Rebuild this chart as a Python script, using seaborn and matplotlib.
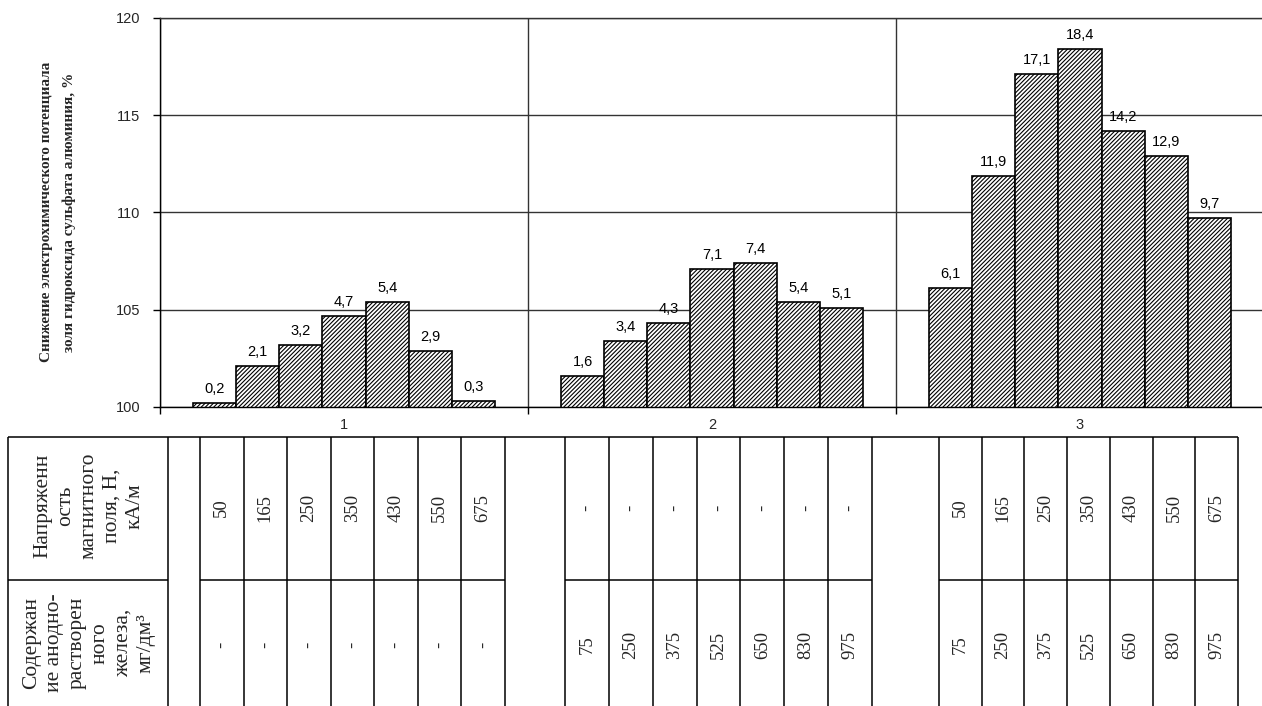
import matplotlib
matplotlib.use("Agg")
import matplotlib.pyplot as plt
import seaborn as sns
import pandas as pd
import numpy as np

# ---------------- data ----------------
groups = ["1", "2", "3"]
bar_idx = [0, 1, 2, 3, 4, 5, 6]
decrease_g1 = [0.2, 2.1, 3.2, 4.7, 5.4, 2.9, 0.3]
decrease_g2 = [1.6, 3.4, 4.3, 7.1, 7.4, 5.4, 5.1]
decrease_g3 = [6.1, 11.9, 17.1, 18.4, 14.2, 12.9, 9.7]
base_level = 100

field_g1 = ["50", "165", "250", "350", "430", "550", "675"]
field_g2 = ["-", "-", "-", "-", "-", "-", "-"]
field_g3 = ["50", "165", "250", "350", "430", "550", "675"]
iron_g1 = ["-", "-", "-", "-", "-", "-", "-"]
iron_g2 = ["75", "250", "375", "525", "650", "830", "975"]
iron_g3 = ["75", "250", "375", "525", "650", "830", "975"]

y_ticks = [100, 105, 110, 115, 120]
y_label = "Снижение электрохимического потенциала\nзоля гидроксида сульфата алюминия, %"
row1_header = "Напряженн\nость\nмагнитного\nполя, Н,\nкА/м"
row2_header = "Содержан\nие анодно-\nрастворен\nного\nжелеза,\nмг/дм³"

all_dec = [decrease_g1, decrease_g2, decrease_g3]
rows = []
for g, vals in zip(groups, all_dec):
    for i, v in zip(bar_idx, vals):
        rows.append({"group": g, "idx": i, "height": base_level + v, "dec": v})
df = pd.DataFrame(rows)

# ---------------- style ----------------
sns.set_style("white")
plt.rcParams["font.family"] = ["Liberation Sans", "DejaVu Sans"]
plt.rcParams["hatch.linewidth"] = 0.8
plt.rcParams["hatch.color"] = "black"

W, H = 1262, 706
fig = plt.figure(figsize=(W / 100, H / 100), dpi=100)
ax = fig.add_axes([160 / W, 1 - 407 / H, 1104 / W, (407 - 18) / H])

sns.barplot(data=df, x="group", y="height", hue="idx",
            palette=["white"] * 7, edgecolor="black", linewidth=1.2,
            width=0.82, legend=False, ax=ax, saturation=1)

for p in ax.patches:
    p.set_hatch("////////")
    p.set_edgecolor("black")

for i, cont in enumerate(ax.containers):
    labels = [f"{vals[i]:.1f}".replace(".", ",") for vals in all_dec]
    ax.bar_label(cont, labels=labels, padding=5, fontsize=10.5,
                 color="black")

ax.set_ylim(100, 120)
ax.set_xlim(-0.5, 2.5)
ax.set_yticks(y_ticks)
ax.set_yticklabels([str(t) for t in y_ticks], fontsize=10.5)
ax.set_xticks([0, 1, 2])
ax.set_xticklabels(groups, fontsize=10.5)
ax.set_xticks([-0.5, 0.5, 1.5, 2.5], minor=True)
ax.tick_params(axis="x", which="major", length=0, pad=8)
ax.tick_params(axis="x", which="minor", length=5, width=1, color="black",
               direction="out", bottom=True)
ax.tick_params(axis="y", which="major", length=5, width=1, color="black",
               direction="out", left=True, pad=9)
ax.set_xlabel("")
ax.set_ylabel("")
ax.set_axisbelow(True)
ax.yaxis.grid(True, color="#333333", lw=1)
ax.xaxis.grid(True, which="minor", color="#333333", lw=1)
ax.xaxis.grid(False, which="major")
for s in ["left", "bottom", "top"]:
    ax.spines[s].set_visible(True)
    ax.spines[s].set_color("black")
    ax.spines[s].set_linewidth(1)
ax.spines["top"].set_color("#333333")
ax.spines["right"].set_visible(False)

fig.text(58 / W, 1 - 212 / H, y_label, rotation=90, ha="center", va="center",
         multialignment="center", fontsize=11, fontweight="bold",
         family=["Liberation Serif", "DejaVu Serif"], linespacing=1.9)

# ---------------- table ----------------
tax = fig.add_axes([0, 0, 1, 1])
tax.set_xlim(0, W)
tax.set_ylim(H, 0)
tax.axis("off")
tax.patch.set_alpha(0)

top_y, mid_y, bot_y = 437, 580, 706
hdr_l, hdr_r = 8, 168
grp_spans = [(200, 505), (565, 872), (939, 1238)]
lw = 1.1
kw = dict(color="black", lw=lw, solid_capstyle="butt")

tax.plot([hdr_l, grp_spans[-1][1]], [top_y, top_y], **kw)
for x in [hdr_l, hdr_r]:
    tax.plot([x, x], [top_y, bot_y], **kw)
tax.plot([hdr_l, hdr_r], [mid_y, mid_y], **kw)

row1_vals = [field_g1, field_g2, field_g3]
row2_vals = [iron_g1, iron_g2, iron_g3]
serif = ["Liberation Serif", "DejaVu Serif"]
for (x0, x1), r1, r2 in zip(grp_spans, row1_vals, row2_vals):
    edges = np.linspace(x0, x1, len(r1) + 1)
    for x in edges:
        tax.plot([x, x], [top_y, bot_y], **kw)
    tax.plot([x0, x1], [mid_y, mid_y], **kw)
    centers = (edges[:-1] + edges[1:]) / 2
    for cx, a, b in zip(centers, r1, r2):
        tax.text(cx, 508, a, rotation=90, ha="center", va="center",
                 fontsize=13.5, family=serif)
        tax.text(cx, 645, b, rotation=90, ha="center", va="center",
                 fontsize=13.5, family=serif)

tax.text((hdr_l + hdr_r) / 2 + 1, 506, row1_header, rotation=90, ha="center",
         va="center", multialignment="center", fontsize=15.5, family=serif,
         linespacing=1.28)
tax.text((hdr_l + hdr_r) / 2 + 1, 643, row2_header, rotation=90, ha="center",
         va="center", multialignment="center", fontsize=15.5, family=serif,
         linespacing=1.28)

fig.savefig("out.png", dpi=100)
